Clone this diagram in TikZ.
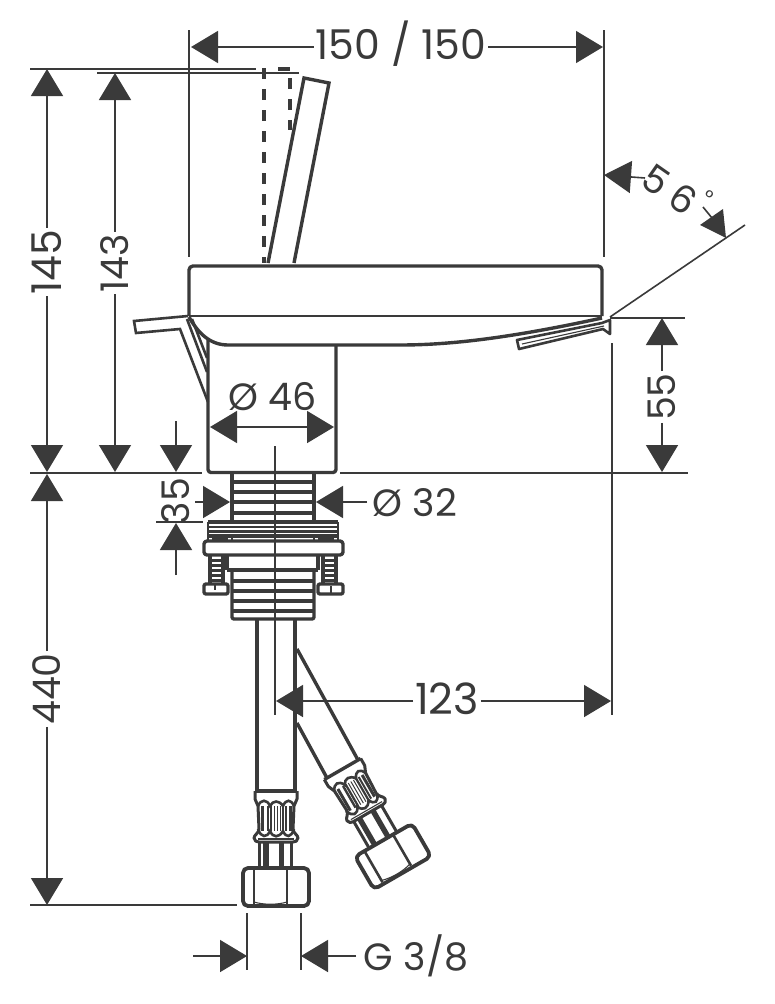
\documentclass[tikz,border=0pt]{standalone}
\usepackage{fontspec}
\setmainfont{Poppins}
\usetikzlibrary{arrows.meta}
\definecolor{ink}{HTML}{3A3A3A}
\tikzset{
  thin line/.style={draw=ink,line width=1.6pt},
  heavy/.style={draw=ink,line width=3.4pt,line join=round},
  mid/.style={draw=ink,line width=2.6pt},
  fine/.style={draw=ink,line width=1.1pt},
  dimtip/.style={thin line,-{Triangle[length=27pt,width=32pt,fill=ink]}},
  lab/.style={text=ink,font=\fontsize{38}{38}\selectfont,inner sep=0pt,outer sep=2pt},
  labv/.style={lab,rotate=90},
  dashv/.style={draw=ink,line width=4.4pt,dash pattern=on 11pt off 10pt}
}
% #1 = extra neck length
\newcommand\hoseend[1]{%
  \draw[heavy] (-21,0) -- (21,0);
  \draw[draw=ink,line width=3pt,line join=round] (-21,0) -- (-21,8) .. controls (-21,11) and (-18,12) .. (-18,15) -- (-17,38) .. controls (-17,42) and (-22,44) .. (-22,47) .. controls (-22,50) and (-19,51) .. (-17,51) -- (17,51) .. controls (19,51) and (22,50) .. (22,47) .. controls (22,44) and (17,42) .. (17,38) -- (18,15) .. controls (18,12) and (21,11) .. (21,8) -- (21,0);
  \draw[fine] (-18,48) -- (18,48);
  \draw[mid] (-18,15) .. controls (-15,8) and (-9,8) .. (-6,15) .. controls (-3,9) and (3,9) .. (7,15) .. controls (10,8) and (15,8) .. (18,15);
  \draw[mid] (-18,38) .. controls (-15,47) and (-9,47) .. (-6,40) .. controls (-3,47) and (3,47) .. (7,40) .. controls (10,47) and (15,47) .. (18,38);
  \foreach \q/\w in {-14/3,-8/2.4,-5/2.2,-2/1,1/1,4/1,7/2.2,10/2,14/3}{
    \draw[draw=ink,line width=\w pt] (\q,15) -- (\q,40);}
  \draw[draw=ink,line width=3pt] (-16.5,51) -- (-16.5,77+#1);
  \draw[draw=ink,line width=5.4pt] (-10,51) -- (-10,77+#1);
  \draw[draw=ink,line width=5.4pt] (5.5,51) -- (5.5,77+#1);
  \draw[draw=ink,line width=3pt] (15.5,51) -- (15.5,77+#1);
  \begin{scope}[yshift=-#1 pt]
  \draw[draw=ink,line width=3.8pt,line join=round,rounded corners=5pt,fill=white] (-33,77) rectangle (33,115);
  \draw[mid] (-22,77) -- (-22,113);
  \draw[mid] (11,77) -- (11,113);
  \draw[fine] (-22,111) .. controls (-12,114) and (1,114) .. (11,111);
  \end{scope}
}
\begin{document}
\begin{tikzpicture}[x=1pt,y=-1pt]
\path[use as bounding box,fill=white] (0,0) rectangle (775,1004);

% ---- extension lines
\draw[thin line] (189,30) -- (189,257);
\draw[thin line] (604,30) -- (604,257);
\draw[thin line] (30,69) -- (256,69);
\draw[thin line] (97,73) -- (299,73);
\draw[thin line] (30,473) -- (202,473);
\draw[thin line] (340,473) -- (688,473);
\draw[thin line] (156,522) -- (203,522);
\draw[thin line] (30,905) -- (237,905);
\draw[thin line] (610,318) -- (685,318);
\draw[thin line] (612,343) -- (612,715);
\draw[thin line] (610,317) -- (745,225);
\draw[thin line] (247,913) -- (247,970);
\draw[thin line] (301,913) -- (301,970);
\draw[thin line] (275,446) -- (275,715);

% ---- body
\draw[heavy,rounded corners=4pt] (189,316) -- (189,266) -- (602,266) -- (602,316);
\draw[thin line] (189,316) -- (602,316);
\draw[heavy] (189,317) .. controls (198,333) and (210,345) .. (228,345) -- (400,345) .. controls (450,345) and (510,338) .. (602,318);
% lever
\draw[heavy,line join=miter] (268,263) -- (304,78) -- (329,83) -- (294,263);
% dashed lever
\draw[dashv] (264,68) -- (264,263);
\draw[dashv] (290,78) -- (290,130);
\draw[draw=ink,line width=4.4pt] (278,69) -- (290,69);
% left handle
\draw[mid,line join=miter] (188,316) -- (134,321) -- (136,333) -- (180,329) -- (208,402);
\draw[mid] (187,319) -- (207,372);
\draw[mid] (192,319) -- (207,358);
% right pop-up rod
\draw[mid,line join=round] (517,340) -- (519,349) -- (603,329) -- (610,334) -- (610,320) -- (602,323) -- cycle;
\draw[fine] (522,344) -- (604,326);
% column
\draw[heavy,rounded corners=3pt] (208,340) -- (208,472.5) -- (336,472.5) -- (336,345);

% ---- upper thread
\draw[heavy] (232,474) -- (232,522);
\draw[heavy] (314,474) -- (314,522);
\foreach \yy in {482,492,502,513}{\draw[draw=ink,line width=4.2pt] (232,\yy) -- (314,\yy);}
% upper flange
\draw[heavy] (208,522) -- (338,522);
\draw[draw=ink,line width=2.8pt] (208,527) -- (338,527);
\draw[draw=ink,line width=2.8pt] (208,531.5) -- (338,531.5);
\draw[heavy] (208,536) -- (338,536);
\draw[mid] (208,522) -- (208,540);
\draw[mid] (338,522) -- (338,540);
\draw[draw=ink,line width=4pt] (212,539) -- (226,539);
\draw[draw=ink,line width=4pt] (320,539) -- (334,539);
\draw[mid] (227,536) -- (227,540);
\draw[mid] (232,536) -- (232,540);
\draw[mid] (314,536) -- (314,540);
\draw[mid] (319,536) -- (319,540);
% washer
\draw[heavy,rounded corners=3pt] (204,541) rectangle (343,555);
% under washer
\draw[heavy] (227,556) -- (227,570);
\draw[heavy] (318,556) -- (318,570);
\draw[heavy] (227,570) -- (318,570);
% screws
\draw[heavy] (210,556) -- (210,584);
\draw[heavy] (223,556) -- (223,584);
\draw[heavy] (323,556) -- (323,584);
\draw[heavy] (336,556) -- (336,584);
\foreach \yy in {560,565,570,575,580}{
  \draw[draw=ink,line width=3pt] (210,\yy) -- (223,\yy);
  \draw[draw=ink,line width=3pt] (323,\yy) -- (336,\yy);}
% screw nuts
\draw[heavy,rounded corners=2pt] (204,584) rectangle (228,594);
\draw[heavy,rounded corners=2pt] (318,584) rectangle (343,594);
\draw[mid] (215,584) -- (215,590);
\draw[mid] (331,586) -- (331,594);
% lower thread
\draw[heavy,rounded corners=2pt] (232,570) -- (232,619) -- (314,619) -- (314,570);
\foreach \yy in {581,591,601,611}{\draw[draw=ink,line width=4.2pt] (232,\yy) -- (314,\yy);}
\draw[thin line] (275,474) -- (275,620);

% ---- hoses
\draw[heavy] (257,620) -- (257,791);
\draw[heavy] (295,620) -- (295,791);
\draw[heavy] (297,649) -- (358,760);
\draw[heavy] (297,723) -- (327,778);
\begin{scope}[shift={(276,791)}]\hoseend{0}\end{scope}
\begin{scope}[shift={(342.5,769)},rotate=30]\hoseend{5}\end{scope}

% ---- dimensions
\node[lab,font=\fontsize{41}{41}\selectfont] (d150) at (401,44) {150 / 150};
\coordinate (ta) at (191,47); \coordinate (tb) at (603,47);
\draw[dimtip] (d150.west |- ta) -- (ta);
\draw[dimtip] (d150.east |- tb) -- (tb);

\node[labv,font=\fontsize{41}{41}\selectfont] (d145) at (47,262) {145};
\coordinate (a145t) at (47,69); \coordinate (a145b) at (47,472);
\draw[dimtip] (d145.east) -- (a145t);
\draw[dimtip] (d145.west) -- (a145b);

\node[labv] (d143) at (115,263) {143};
\coordinate (a143t) at (115,73); \coordinate (a143b) at (115,472);
\draw[dimtip] (d143.east) -- (a143t);
\draw[dimtip] (d143.west) -- (a143b);

\node[labv] (d440) at (47,689) {440};
\coordinate (a440t) at (47,474); \coordinate (a440b) at (47,905);
\draw[dimtip] (d440.east) -- (a440t);
\draw[dimtip] (d440.west) -- (a440b);

\node[labv] (d55) at (662,397) {55};
\coordinate (a55t) at (662,318); \coordinate (a55b) at (662,472);
\draw[dimtip] (d55.east) -- (a55t);
\draw[dimtip] (d55.west) -- (a55b);

\node[labv] (d35) at (176,501) {35};
\coordinate (a35s) at (176,421); \coordinate (a35e) at (176,472);
\draw[dimtip] (a35s) -- (a35e);
\coordinate (b35s) at (176,575); \coordinate (b35e) at (176,523);
\draw[dimtip] (b35s) -- (b35e);

\node[lab] (d46) at (273,397) {Ø 46};
\coordinate (a46l) at (210,427); \coordinate (a46r) at (334,427); \coordinate (a46m) at (272,427);
\draw[dimtip] (a46m) -- (a46l);
\draw[dimtip] (a46m) -- (a46r);

\node[lab] (d32) at (415,503) {Ø 32};
\coordinate (a32l) at (195,502); \coordinate (a32lt) at (230,502);
\coordinate (a32r) at (367,502); \coordinate (a32rt) at (316,502);
\draw[dimtip] (a32l) -- (a32lt);
\draw[dimtip] (a32r) -- (a32rt);

\node[lab,font=\fontsize{43}{43}\selectfont] (d123) at (447,699) {123};
\coordinate (a123l) at (276,701); \coordinate (a123r) at (611,701);
\draw[dimtip] (d123.west |- a123l) -- (a123l);
\draw[dimtip] (d123.east |- a123r) -- (a123r);

\node[lab] (dg) at (416,956) {G 3/8};
\coordinate (agl) at (193,956); \coordinate (aglt) at (247,956);
\coordinate (agr) at (356,956); \coordinate (agrt) at (301,956);
\draw[dimtip] (agl) -- (aglt);
\draw[dimtip] (agr) -- (agrt);

% 56 degrees
\node[lab,rotate=-35,outer sep=0pt] (d5) at (656,180) {5};
\node[lab,rotate=-35,outer sep=0pt] (d6) at (683,199) {6};
\node[lab,rotate=-35,outer sep=0pt,font=\fontsize{20}{20}\selectfont] (ddeg) at (708,197) {°};
\coordinate (a56l) at (645,178); \coordinate (a56lt) at (604,175);
\draw[dimtip] (a56l) -- (a56lt);
\draw[thin line] (703,207) -- (712,218);
\fill[ink] (723,209) -- (700,225) -- (726,238) -- cycle;
\end{tikzpicture}
\end{document}
